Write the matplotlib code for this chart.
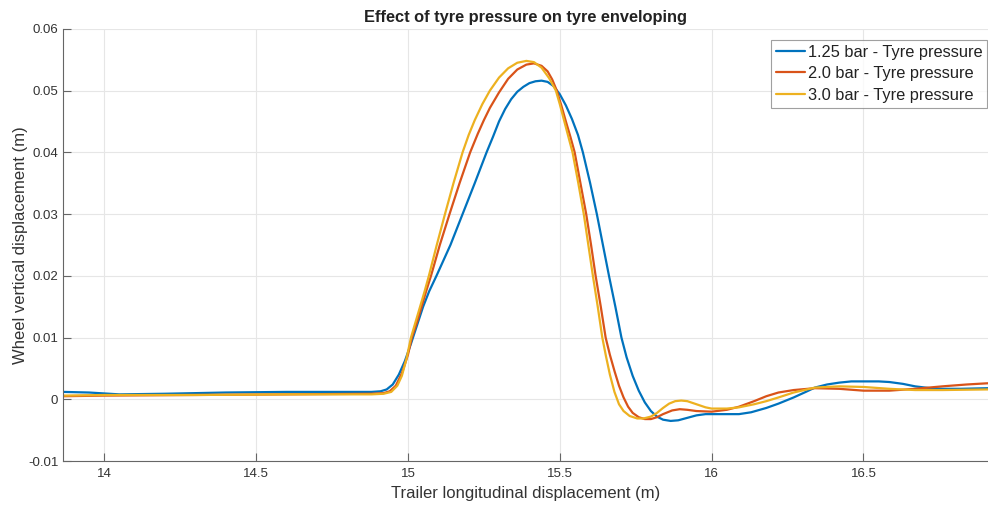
import numpy as np
import matplotlib
matplotlib.use("Agg")
import matplotlib.pyplot as plt

plt.rcParams["font.family"] = ["Liberation Sans", "DejaVu Sans"]

# values
x_125 = [13.865, 13.95, 14.05, 14.2, 14.4, 14.6, 14.75, 14.88, 14.91, 14.93, 14.95,
         14.97, 14.99, 15.01, 15.03, 15.05, 15.07, 15.094, 15.14, 15.18, 15.22,
         15.259, 15.28, 15.30, 15.32, 15.34, 15.36, 15.38, 15.40, 15.42, 15.44,
         15.46, 15.48, 15.50, 15.52, 15.54, 15.56, 15.576, 15.60, 15.622, 15.642,
         15.662, 15.683, 15.703, 15.72, 15.74, 15.76, 15.78, 15.80, 15.82, 15.84,
         15.865, 15.89, 15.92, 15.95, 15.98, 16.0, 16.05, 16.09, 16.13, 16.18,
         16.22, 16.27, 16.31, 16.34, 16.38, 16.42, 16.46, 16.50, 16.55, 16.585,
         16.63, 16.67, 16.72, 16.76, 16.82, 16.91]
y_125 = [0.0012, 0.0011, 0.0008, 0.0009, 0.0011, 0.0012, 0.0012, 0.0012, 0.0013, 0.0016, 0.0024,
         0.0040, 0.0062, 0.0090, 0.0120, 0.0150, 0.0175, 0.0200, 0.0250, 0.0300, 0.0350,
         0.0400, 0.0425, 0.0450, 0.0470, 0.0486, 0.0498, 0.0506, 0.0512, 0.0515, 0.0516,
         0.0514, 0.0507, 0.0494, 0.0476, 0.0454, 0.0428, 0.0400, 0.0350, 0.0300, 0.0250,
         0.0200, 0.0150, 0.0100, 0.0068, 0.0038, 0.0014, -0.0005, -0.0019, -0.0028, -0.0033,
         -0.0035, -0.0034, -0.0030, -0.0026, -0.0024, -0.0024, -0.0024, -0.0024, -0.0021, -0.0014,
         -0.0007, 0.0003, 0.0012, 0.0019, 0.0024, 0.0027, 0.0029, 0.0029, 0.0029, 0.0028,
         0.0025, 0.0021, 0.0018, 0.0017, 0.0017, 0.0018]

x_20 = [13.865, 14.0, 14.3, 14.6, 14.88, 14.92, 14.94, 14.96, 14.98, 15.0, 15.013,
        15.03, 15.045, 15.06, 15.076, 15.105, 15.137, 15.17, 15.205, 15.23, 15.25,
        15.27, 15.30, 15.33, 15.36, 15.39, 15.415, 15.44, 15.46, 15.475, 15.49,
        15.505, 15.52, 15.535, 15.549, 15.568, 15.587, 15.603, 15.618, 15.635, 15.651,
        15.665, 15.68, 15.695, 15.71, 15.725, 15.74, 15.76, 15.78, 15.80, 15.82,
        15.84, 15.87, 15.895, 15.92, 15.95, 16.0, 16.05, 16.09, 16.14, 16.18,
        16.22, 16.27, 16.34, 16.42, 16.5, 16.585, 16.67, 16.76, 16.84, 16.91]
y_20 = [0.0005, 0.0006, 0.0007, 0.0008, 0.0009, 0.0010, 0.0013, 0.0022, 0.0042, 0.0072, 0.0100,
        0.0125, 0.0150, 0.0175, 0.0200, 0.0250, 0.0300, 0.0350, 0.0400, 0.0430, 0.0452,
        0.0472, 0.0497, 0.0519, 0.0534, 0.0542, 0.0544, 0.0540, 0.0531, 0.0518, 0.0500,
        0.0476, 0.0450, 0.0425, 0.0400, 0.0350, 0.0300, 0.0250, 0.0200, 0.0150, 0.0100,
        0.0072, 0.0046, 0.0022, 0.0003, -0.0012, -0.0022, -0.0029, -0.0032, -0.0032, -0.0029,
        -0.0024, -0.0018, -0.0016, -0.0017, -0.0019, -0.0020, -0.0017, -0.0012, -0.0003, 0.0005,
        0.0011, 0.0015, 0.0018, 0.0017, 0.0014, 0.0014, 0.0017, 0.0021, 0.0024, 0.0026]

x_30 = [13.865, 14.0, 14.3, 14.6, 14.88, 14.92, 14.945, 14.965, 14.98, 14.995, 15.01,
        15.025, 15.04, 15.055, 15.069, 15.095, 15.122, 15.15, 15.18, 15.20, 15.22,
        15.245, 15.27, 15.30, 15.33, 15.36, 15.39, 15.415, 15.44, 15.465, 15.487,
        15.50, 15.515, 15.53, 15.542, 15.561, 15.579, 15.594, 15.609, 15.625, 15.64,
        15.652, 15.665, 15.68, 15.695, 15.71, 15.73, 15.755, 15.776, 15.80, 15.82,
        15.84, 15.86, 15.88, 15.90, 15.92, 15.95, 15.98, 16.0, 16.05, 16.09,
        16.14, 16.18, 16.22, 16.27, 16.34, 16.42, 16.5, 16.585, 16.67, 16.76, 16.91]
y_30 = [0.0006, 0.0007, 0.0007, 0.0008, 0.0008, 0.0009, 0.0012, 0.0022, 0.0038, 0.0065, 0.0100,
        0.0125, 0.0150, 0.0175, 0.0200, 0.0250, 0.0300, 0.0350, 0.0400, 0.0428, 0.0452,
        0.0478, 0.0500, 0.0521, 0.0536, 0.0545, 0.0548, 0.0546, 0.0537, 0.0520, 0.0500,
        0.0478, 0.0450, 0.0422, 0.0400, 0.0350, 0.0300, 0.0250, 0.0200, 0.0150, 0.0100,
        0.0070, 0.0040, 0.0012, -0.0008, -0.0019, -0.0027, -0.0031, -0.0031, -0.0028, -0.0022,
        -0.0014, -0.0007, -0.0003, -0.0002, -0.0003, -0.0008, -0.0013, -0.0015, -0.0015, -0.0013,
        -0.0008, -0.0003, 0.0003, 0.0011, 0.0019, 0.0021, 0.0020, 0.0017, 0.0015, 0.0015, 0.0016]

labels = ["1.25 bar - Tyre pressure", "2.0 bar - Tyre pressure", "3.0 bar - Tyre pressure"]
colors = ["#0072BD", "#D95319", "#EDB120"]
x_ticks = [14, 14.5, 15, 15.5, 16, 16.5]
y_ticks = [-0.01, 0, 0.01, 0.02, 0.03, 0.04, 0.05, 0.06]

fig = plt.figure(figsize=(9.88, 5.05), dpi=100)
ax = fig.add_axes([0.064, 0.087, 0.936, 0.856])

for xs, ys, lbl, c in zip([x_125, x_20, x_30], [y_125, y_20, y_30], labels, colors):
    ax.plot(xs, ys, color=c, linewidth=1.6, label=lbl,
            solid_joinstyle="round", solid_capstyle="round")

ax.set_xlim(13.865, 16.91)
ax.set_ylim(-0.01, 0.06)
ax.set_xticks(x_ticks)
ax.set_yticks(y_ticks)
ax.xaxis.set_major_formatter(plt.FuncFormatter(lambda v, _: f"{v:g}"))
ax.yaxis.set_major_formatter(plt.FuncFormatter(lambda v, _: f"{v:g}"))
ax.tick_params(direction="in", length=6, width=0.8, color="#666666",
               labelsize=9.5, labelcolor="#333333")
ax.tick_params(axis="x", pad=5)
ax.tick_params(axis="y", pad=3.5)
ax.grid(True, color="#e6e6e6", linewidth=0.8)
ax.set_axisbelow(True)
ax.spines[["top", "right"]].set_visible(False)
for s in ["left", "bottom"]:
    ax.spines[s].set_color("#666666")
    ax.spines[s].set_linewidth(0.8)

ax.set_title("Effect of tyre pressure on tyre enveloping", fontsize=11.8,
             fontweight="bold", color="#222222", pad=5)
ax.set_xlabel("Trailer longitudinal displacement (m)", fontsize=12, color="#333333", labelpad=4)
ax.set_ylabel("Wheel vertical displacement (m)", fontsize=12, color="#333333", labelpad=0)

leg = ax.legend(loc="upper right", bbox_to_anchor=(0.999, 0.975), borderaxespad=0,
                fontsize=11.8, frameon=True, fancybox=False, handlelength=1.8,
                handletextpad=0.15, borderpad=0.3, labelspacing=0.4)
leg.get_frame().set_edgecolor("#888888")
leg.get_frame().set_linewidth(0.8)
for t in leg.get_texts():
    t.set_color("#222222")

fig.savefig("out.png", dpi=100)
